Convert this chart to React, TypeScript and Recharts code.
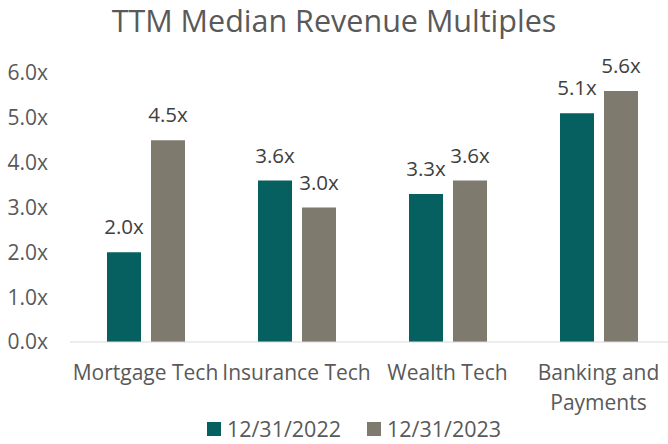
import { BarChart, Bar, XAxis, YAxis, Legend, LabelList, Text } from 'recharts';

const categories = ['Mortgage Tech', 'Insurance Tech', 'Wealth Tech', 'Banking and Payments'];
const multiples2022 = [2.0, 3.6, 3.3, 5.1];
const multiples2023 = [4.5, 3.0, 3.6, 5.6];
const yTicks = [0, 1, 2, 3, 4, 5, 6];

const SERIES = [
  { key: 'y2022', name: '12/31/2022', color: '#05605F' },
  { key: 'y2023', name: '12/31/2023', color: '#7F7A6E' },
];

const FONT = '"Open Sans", "Liberation Sans", sans-serif';

const data = categories.map((c, i) => ({
  category: c,
  y2022: multiples2022[i],
  y2023: multiples2023[i],
}));

function CategoryTick(props: any) {
  const { x, y, payload } = props;
  const style = { fontSize: 21, fontFamily: FONT };
  return (
    <Text
      x={x}
      y={y + 15}
      width={160}
      textAnchor="middle"
      verticalAnchor="start"
      lineHeight={30}
      fill="#595959"
      style={style}
      fontSize={21}
      fontFamily={FONT}
    >
      {payload.value}
    </Text>
  );
}

function LegendContent() {
  return (
    <div
      style={{
        display: 'flex', justifyContent: 'center', gap: 26, height: 30, lineHeight: '30px',
        fontFamily: FONT, fontSize: 21.5, color: '#595959', paddingLeft: 34,
      }}
    >
      {SERIES.map((s) => (
        <div key={s.key} style={{ display: 'flex', alignItems: 'center' }}>
          <span style={{ width: 14, height: 14, background: s.color, marginRight: 6, display: 'inline-block' }} />
          {s.name}
        </div>
      ))}
    </div>
  );
}

export default function App() {
  return (
    <div style={{ position: 'absolute', left: 0, top: 0, width: 668, height: 444, overflow: 'hidden', background: '#fff' }}>
      <div
        style={{
          position: 'absolute', top: 0, left: 0, width: 668, textAlign: 'center',
          fontFamily: FONT, fontSize: 30.5, color: '#595959', lineHeight: '40px',
        }}
      >
        TTM Median Revenue Multiples
      </div>
      <BarChart
        width={676}
        height={444}
        data={data}
        margin={{ top: 73, right: 2, left: 0, bottom: 0 }}
        barSize={34}
        barGap={10}
      >
        <XAxis
          dataKey="category"
          axisLine={{ stroke: '#D9D9D9', strokeWidth: 1 }}
          tickLine={false}
          height={72}
          interval={0}
          tick={<CategoryTick />}
        />
        <YAxis
          domain={[0, 6]}
          ticks={yTicks}
          width={70}
          axisLine={false}
          tickLine={false}
          tickSize={0}
          tickMargin={22}
          tickFormatter={(v: number) => v.toFixed(1) + 'x'}
          tick={{ fill: '#595959', fontSize: 21, fontFamily: FONT }}
        />
        <Legend verticalAlign="bottom" height={30} content={<LegendContent />} />
        {SERIES.map((s) => (
          <Bar key={s.key} dataKey={s.key} name={s.name} fill={s.color} isAnimationActive={false}>
            <LabelList
              dataKey={s.key}
              position="top"
              offset={18}
              formatter={(v: number) => v.toFixed(1) + 'x'}
              fill="#404040"
              fontSize={20.5}
              fontFamily={FONT}
            />
          </Bar>
        ))}
      </BarChart>
    </div>
  );
}
